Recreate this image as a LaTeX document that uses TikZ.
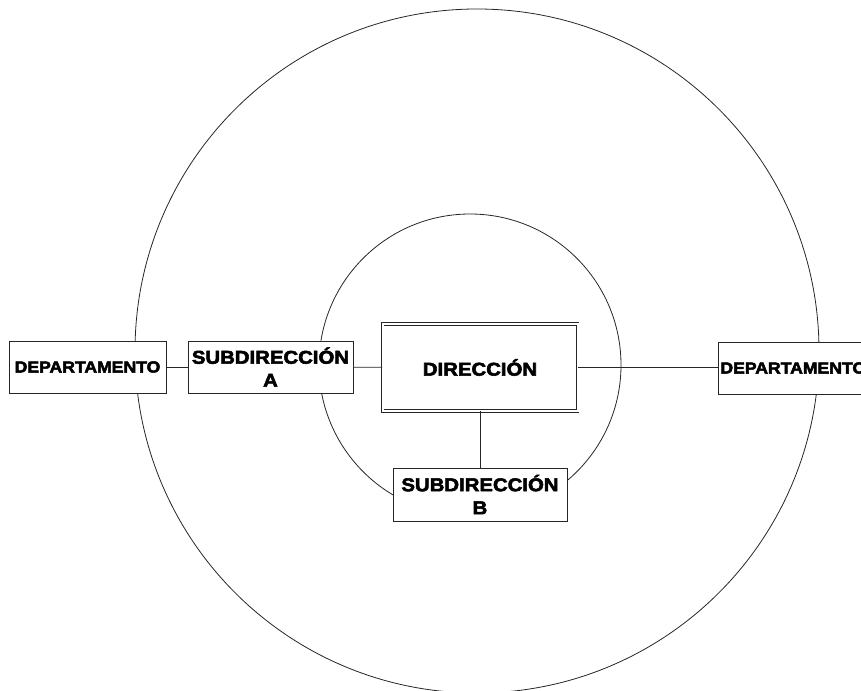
\documentclass[tikz,border=0pt]{standalone}
\usepackage{fontspec}
\newfontfamily\boxfont{Liberation Sans}[FakeStretch=1.1,BoldFeatures={FakeBold=3}]
\usepackage{tikz}
\usetikzlibrary{positioning,calc}
\tikzset{>=stealth,
  unit/.style={draw=black!85,fill=white,line width=.8pt,align=center,inner sep=1pt,
    font=\boxfont\bfseries\fontsize{18.5}{23}\selectfont},
  dept/.style={unit,minimum width=157pt,minimum height=52pt,
    font=\boxfont\bfseries\fontsize{16}{19}\selectfont},
  link/.style={draw=black!85,line width=.8pt}}

\begin{document}
\begin{tikzpicture}[x=1pt,y=-1pt]
\useasboundingbox (0,0) rectangle (861,690);
\coordinate (O) at (477,351);
\coordinate (I) at (470,365);
\draw[link] (O) circle[radius=342pt];
\draw[link] (I) circle[radius=151pt];
\node[unit,double,double distance=2pt,minimum width=195pt,minimum height=87pt] (dir) at (480,367.5) {DIRECCI\'ON};
\node[unit,minimum width=165pt,minimum height=52pt] (subA) at (270.5,367) {SUBDIRECCI\'ON\\A};
\node[unit,minimum width=174pt,minimum height=53pt] (subB) at (480,494.5) {SUBDIRECCI\'ON\\B};
\node[dept] (depL) at (87.5,367) {DEPARTAMENTO};
\node[dept,anchor=west,text width=153pt,align=left] (depR) at (718,368) {DEPARTAMENTO};
\draw[link] (depL) -- (subA);
\draw[link] (subA) -- (dir);
\draw[link] (dir.east) -- (dir.east -| depR.west);
\draw[link] (dir) -- (subB);
\end{tikzpicture}
\end{document}
